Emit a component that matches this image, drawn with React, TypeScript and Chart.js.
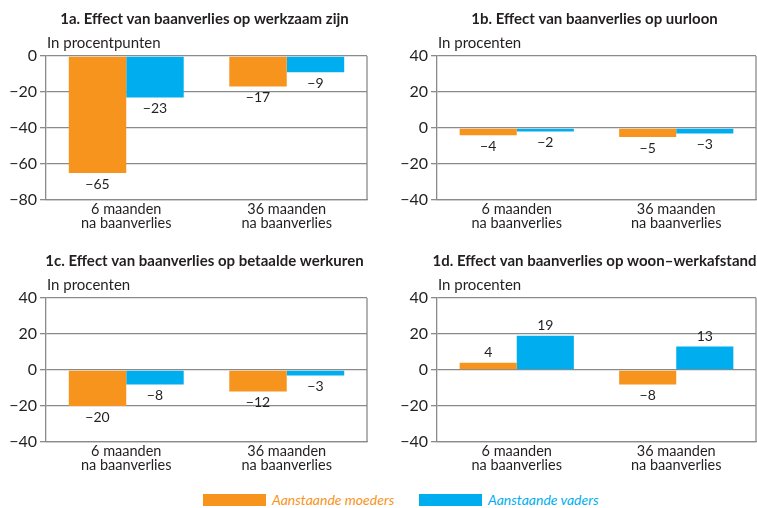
import React, { useEffect, useRef } from "react";
import { Chart, registerables } from "chart.js";

Chart.register(...registerables);

const CATEGORIES = [["6 maanden", "na baanverlies"], ["36 maanden", "na baanverlies"]];
const SERIES_NAMES = ["Aanstaande moeders", "Aanstaande vaders"];
const MOEDERS_1A = [-65, -17];
const VADERS_1A = [-23, -9];
const MOEDERS_1B = [-4, -5];
const VADERS_1B = [-2, -3];
const MOEDERS_1C = [-20, -12];
const VADERS_1C = [-8, -3];
const MOEDERS_1D = [4, -8];
const VADERS_1D = [19, 13];
const RANGE_1A = [-80, 0];
const RANGE_OTHER = [-40, 40];
const TICK_STEP = 20;

const ORANGE = "#F7941D";
const BLUE = "#00AEEF";
const GRID = "#8a8a8a";
const TEXT = "#231f20";
const FONT = "Lato, 'Open Sans', sans-serif";

const fmt = (v: number) => (v < 0 ? "\u2212" + Math.abs(v) : String(v));

type PanelProps = {
  left: number;
  top: number;
  width: number;
  height: number;
  axisWidth: number;
  padRight: number;
  title: string;
  unit: string;
  moeders: number[];
  vaders: number[];
  range: number[];
};

function Panel(p: PanelProps) {
  const ref = useRef<HTMLCanvasElement | null>(null);
  useEffect(() => {
    if (!ref.current) return;
    const textPlugin = {
      id: "panelText",
      afterDraw(chart: any) {
        const ctx = chart.ctx;
        const a = chart.chartArea;
        ctx.save();
        ctx.strokeStyle = GRID;
        ctx.lineWidth = 1.3;
        ctx.beginPath();
        ctx.moveTo(a.right, a.top);
        ctx.lineTo(a.right, a.bottom);
        ctx.stroke();
        ctx.fillStyle = TEXT;
        ctx.font = "bold 15px " + FONT;
        ctx.textAlign = "center";
        ctx.textBaseline = "middle";
        ctx.fillText(p.title, (a.left + a.right) / 2 - 2, 19);
        ctx.font = "15px " + FONT;
        ctx.textAlign = "left";
        ctx.fillText(p.unit, a.left + 1, 43);
        ctx.font = "14px " + FONT;
        ctx.textAlign = "center";
        chart.data.datasets.forEach((ds: any, di: number) => {
          const meta = chart.getDatasetMeta(di);
          meta.data.forEach((el: any, i: number) => {
            const v = ds.data[i];
            const y = v < 0 ? el.y + 11 : el.y - 10;
            ctx.fillText(fmt(v), el.x, y);
          });
        });
        ctx.restore();
      },
    };
    const chart = new Chart(ref.current, {
      type: "bar",
      data: {
        labels: CATEGORIES,
        datasets: [
          { label: SERIES_NAMES[0], data: p.moeders, backgroundColor: ORANGE, borderWidth: 0 },
          { label: SERIES_NAMES[1], data: p.vaders, backgroundColor: BLUE, borderWidth: 0 },
        ],
      },
      options: {
        responsive: false,
        animation: false,
        devicePixelRatio: 1,
        layout: { padding: { top: 56, right: p.padRight, left: 0, bottom: 0 } },
        datasets: { bar: { categoryPercentage: 0.716, barPercentage: 1.0 } },
        plugins: { legend: { display: false }, tooltip: { enabled: false }, title: { display: false } },
        scales: {
          x: {
            grid: { display: false, drawTicks: false, tickLength: 0 },
            border: { display: true, color: GRID, width: 1.3 },
            ticks: { color: TEXT, font: { family: FONT, size: 14.5, lineHeight: 1.0 }, padding: 2, maxRotation: 0 },
            afterFit: (s: any) => {
              s.height = p.height - 200;
            },
          },
          y: {
            min: p.range[0],
            max: p.range[1],
            grid: { color: GRID, lineWidth: 1.3, tickLength: 6, drawTicks: true },
            border: { display: true, color: GRID, width: 1.3 },
            ticks: {
              stepSize: TICK_STEP,
              color: TEXT,
              padding: 3,
              font: { family: FONT, size: 16 },
              callback: (v: any) => fmt(Number(v)),
            },
            afterFit: (s: any) => {
              s.width = p.axisWidth;
            },
          },
        },
      },
      plugins: [textPlugin],
    } as any);
    return () => chart.destroy();
  }, []);
  return (
    <canvas
      ref={ref}
      width={p.width}
      height={p.height}
      style={{ position: "absolute", left: p.left, top: p.top, width: p.width, height: p.height }}
    />
  );
}

function LegendItem({ color, label, left }: { color: string; label: string; left: number }) {
  return (
    <div style={{ position: "absolute", left, top: 492, height: 16, display: "flex", alignItems: "center" }}>
      <div style={{ width: 63, height: 12, background: color, marginRight: 6 }} />
      <span style={{ color, fontStyle: "italic", fontFamily: FONT, fontSize: 14, lineHeight: "16px" }}>{label}</span>
    </div>
  );
}

export default function App() {
  return (
    <div style={{ position: "absolute", left: 0, top: 0, width: 757, height: 508, background: "#fff", overflow: "hidden" }}>
      <Panel left={0} top={0} width={378} height={245} axisWidth={46} padRight={11}
        title="1a. Effect van baanverlies op werkzaam zijn" unit="In procentpunten"
        moeders={MOEDERS_1A} vaders={VADERS_1A} range={RANGE_1A} />
      <Panel left={378} top={0} width={379} height={245} axisWidth={59} padRight={1}
        title="1b. Effect van baanverlies op uurloon" unit="In procenten"
        moeders={MOEDERS_1B} vaders={VADERS_1B} range={RANGE_OTHER} />
      <Panel left={0} top={242} width={378} height={245} axisWidth={46} padRight={11}
        title="1c. Effect van baanverlies op betaalde werkuren" unit="In procenten"
        moeders={MOEDERS_1C} vaders={VADERS_1C} range={RANGE_OTHER} />
      <Panel left={378} top={242} width={379} height={245} axisWidth={59} padRight={1}
        title="1d. Effect van baanverlies op woon–werkafstand" unit="In procenten"
        moeders={MOEDERS_1D} vaders={VADERS_1D} range={RANGE_OTHER} />
      <LegendItem color={ORANGE} label={SERIES_NAMES[0]} left={203} />
      <LegendItem color={BLUE} label={SERIES_NAMES[1]} left={419} />
    </div>
  );
}
